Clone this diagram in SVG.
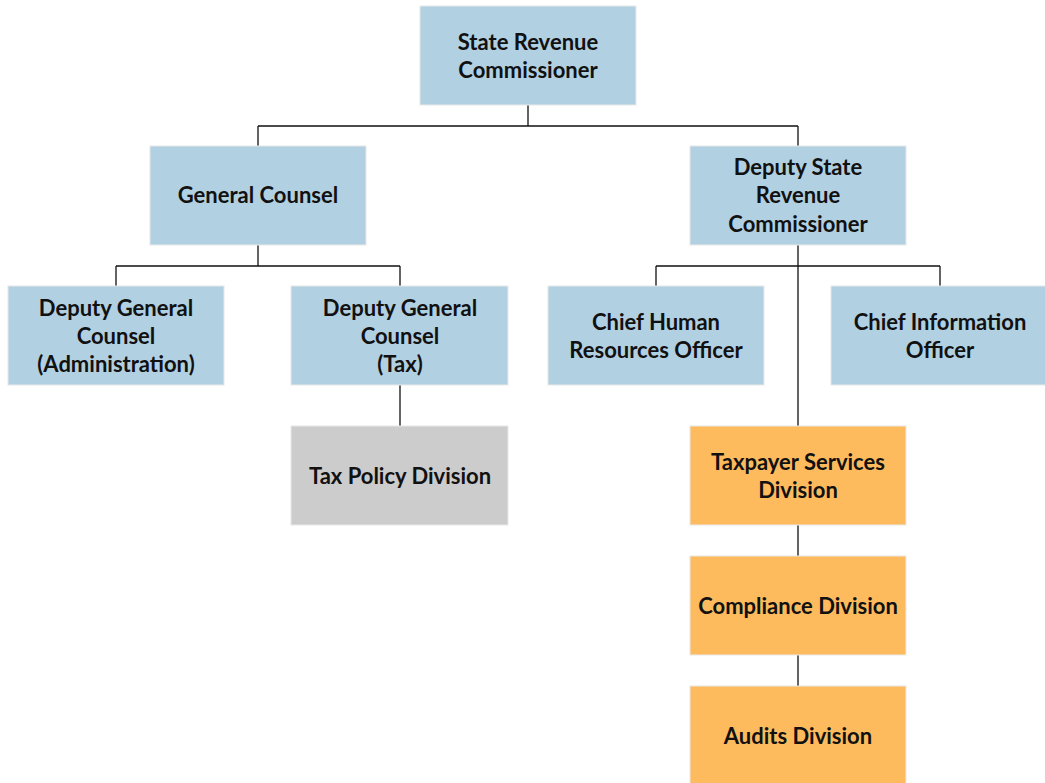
<svg xmlns="http://www.w3.org/2000/svg" width="1045" height="783" viewBox="0 0 1045 783">
<style>
.b{fill:#B1D0E2;stroke:#E8E8E8;stroke-width:1}
.o{fill:#FEBB5E;stroke:#E8E8E8;stroke-width:1}
.g{fill:#CCCCCC;stroke:#E8E8E8;stroke-width:1}
text{font-family:Lato,"Liberation Sans",sans-serif;font-weight:bold;font-size:22px;fill:#111;text-anchor:middle;dominant-baseline:central}
.c{stroke:#111;stroke-width:1.3;fill:none}
</style>
<rect width="1045" height="783" fill="#fff"/>
<g id="connectors">
<path class="c" d="M528,105V126M258,126H798M258,126V146M798,126V146"/>
<path class="c" d="M258,245V266M116,266H400M116,266V286M400,266V286"/>
<path class="c" d="M798,245V426M656,266H940M656,266V286M940,266V286"/>
<path class="c" d="M400,385V426"/>
<path class="c" d="M798,525V556M798,655V686"/>
</g>
<g id="n1"><rect class="b" x="420" y="6" width="216" height="99"/><text x="528" y="41">State Revenue</text><text x="528" y="69">Commissioner</text></g>
<g id="n2"><rect class="b" x="150" y="146" width="216" height="99"/><text x="258" y="194">General Counsel</text></g>
<g id="n3"><rect class="b" x="690" y="146" width="216" height="99"/><text x="798" y="166">Deputy State</text><text x="798" y="194">Revenue</text><text x="798" y="223">Commissioner</text></g>
<g id="n4"><rect class="b" x="8" y="286" width="216" height="99"/><text x="116" y="307">Deputy General</text><text x="116" y="335">Counsel</text><text x="116" y="363">(Administration)</text></g>
<g id="n5"><rect class="b" x="291" y="286" width="217" height="99"/><text x="400" y="307">Deputy General</text><text x="400" y="335">Counsel</text><text x="400" y="363">(Tax)</text></g>
<g id="n6"><rect class="b" x="548" y="286" width="216" height="99"/><text x="656" y="321">Chief Human</text><text x="656" y="349">Resources Officer</text></g>
<g id="n7"><rect class="b" x="831" y="286" width="216" height="99"/><text x="940" y="321">Chief Information</text><text x="940" y="349">Officer</text></g>
<g id="n8"><rect class="g" x="291" y="426" width="217" height="99"/><text x="400" y="475">Tax Policy Division</text></g>
<g id="n9"><rect class="o" x="690" y="426" width="216" height="99"/><text x="798" y="461">Taxpayer Services</text><text x="798" y="489">Division</text></g>
<g id="n10"><rect class="o" x="690" y="556" width="216" height="99"/><text x="798" y="605">Compliance Division</text></g>
<g id="n11"><rect class="o" x="690" y="686" width="216" height="99"/><text x="798" y="735">Audits Division</text></g>
</svg>
